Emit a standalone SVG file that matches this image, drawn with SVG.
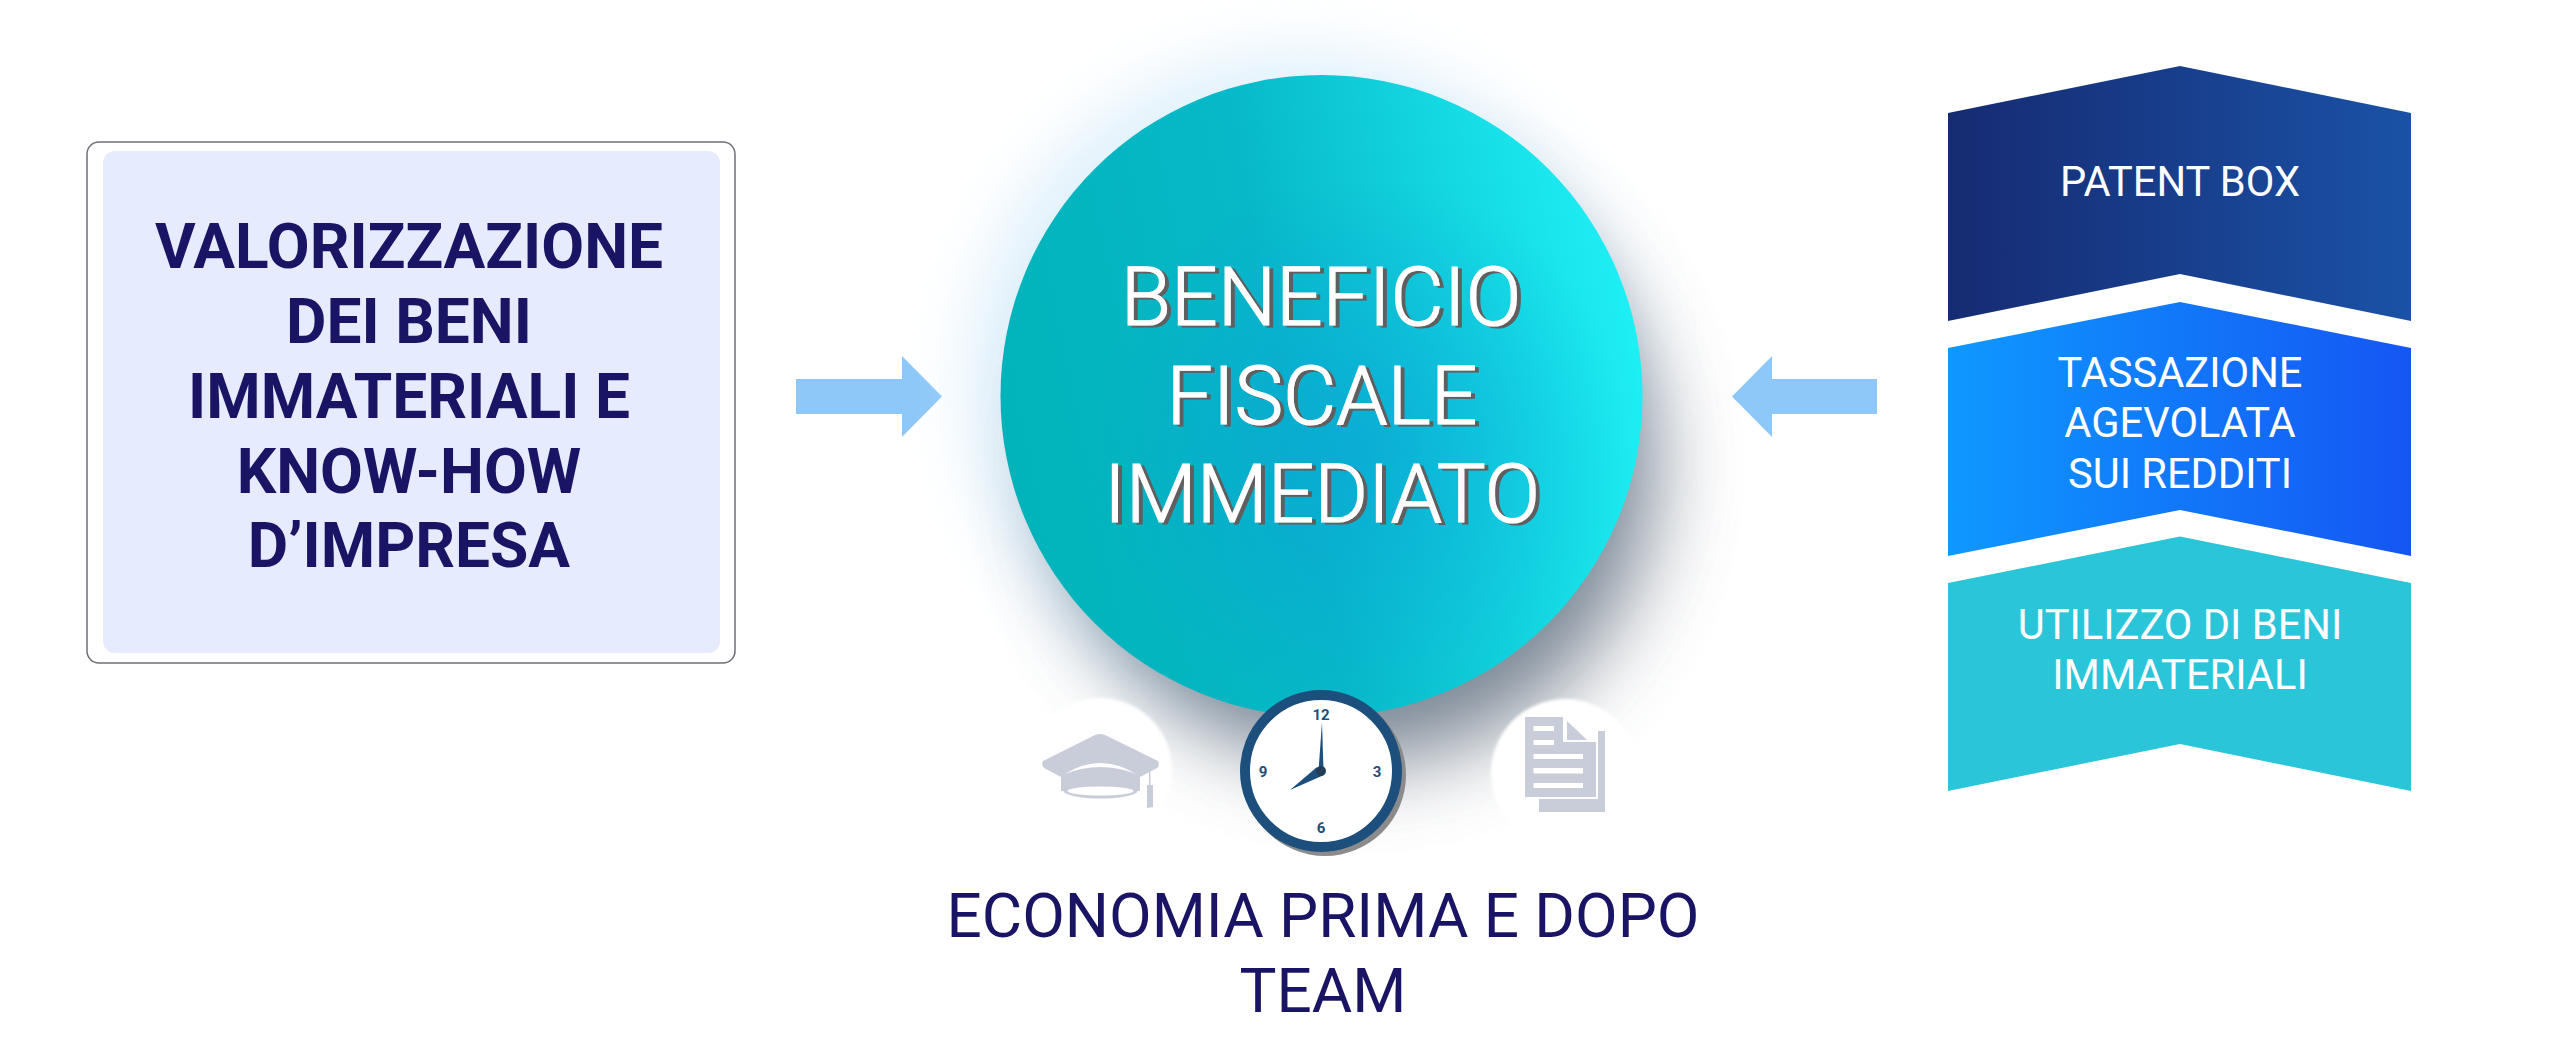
<svg xmlns="http://www.w3.org/2000/svg" width="2560" height="1056" viewBox="0 0 2560 1056">
<style>
text{font-family:Roboto,"Liberation Sans",sans-serif;text-anchor:middle}
.l{font-size:62.2px;font-weight:700;fill:#1a1464}
.c{font-size:82px;font-weight:300;fill:#fff;stroke:#fff;stroke-width:1.2px;filter:url(#ts)}
.r{font-size:41.6px;font-weight:400;fill:#fff}
.b{font-size:62px;font-weight:400;fill:#1a1464}
.n{font-size:15px;font-weight:700;fill:#1d4f7c}
.i{fill:#c9ccd9}
.w{fill:#fff}
.a{fill:#8ec8f8}
</style>
<defs>
<linearGradient id="g1" x1="0" x2="1" y1="0" y2="0"><stop offset="0" stop-color="#162b72"/><stop offset="1" stop-color="#1a52a6"/></linearGradient>
<linearGradient id="g2" x1="0" x2="1" y1="0" y2="0"><stop offset="0" stop-color="#0e99ff"/><stop offset="1" stop-color="#1556f3"/></linearGradient>
<linearGradient id="gc" x1="0" y1="0.62" x2="1" y2="0.42"><stop offset="0" stop-color="#01b3b9"/><stop offset="0.45" stop-color="#07b8c8"/><stop offset="1" stop-color="#1ef0f5"/></linearGradient>
<radialGradient id="gb" cx="0.56" cy="0.58" r="0.42"><stop offset="0" stop-color="#0a9fd8" stop-opacity="0.6"/><stop offset="1" stop-color="#0a9fd8" stop-opacity="0"/></radialGradient>
<filter id="blur" x="-40%" y="-40%" width="180%" height="180%"><feGaussianBlur stdDeviation="42"/></filter>
<filter id="glow" x="-40%" y="-40%" width="180%" height="180%"><feGaussianBlur stdDeviation="30"/></filter>
<filter id="soft" x="-30%" y="-30%" width="160%" height="160%"><feGaussianBlur stdDeviation="1.5"/></filter>
<filter id="ts" x="-5%" y="-10%" width="110%" height="120%"><feDropShadow dx="4" dy="2" stdDeviation="0.4" flood-color="#5f5f5f"/></filter>
</defs>
<rect width="2560" height="1056" fill="#fff"/>
<g id="connectors">
<polygon class="a" points="796,379 902,379 902,356 942,396.5 902,437 902,414 796,414"/>
<polygon class="a" points="1877,379 1772,379 1772,356 1732,396.5 1772,437 1772,414 1877,414"/>
</g>
<g id="node-left">
<rect x="87" y="142" width="648" height="521" rx="12" fill="#fff" stroke="#6f6f78" stroke-width="1.5"/>
<rect x="103" y="151" width="617" height="502" rx="12" fill="#e6ebfd"/>
<text class="l" x="409" y="268">VALORIZZAZIONE</text>
<text class="l" x="409" y="342.5">DEI BENI</text>
<text class="l" x="409" y="417.5">IMMATERIALI E</text>
<text class="l" x="409" y="492.5">KNOW-HOW</text>
<text class="l" x="409" y="567">D’IMPRESA</text>
</g>
<g id="node-center">
<circle cx="1300" cy="385" r="335" fill="#c4e4f8" opacity="0.5" filter="url(#glow)"/>
<circle cx="1355" cy="465" r="300" fill="#5f6c7c" opacity="0.8" filter="url(#blur)"/>
<circle cx="1321.5" cy="396" r="321" fill="url(#gc)"/>
<circle cx="1321.5" cy="396" r="321" fill="url(#gb)"/>
<text class="c" x="1321" y="325">BENEFICIO</text>
<text class="c" x="1322" y="424">FISCALE</text>
<text class="c" x="1322" y="522">IMMEDIATO</text>
</g>
<g id="node-hat">
<circle class="w" cx="1100" cy="770" r="72" filter="url(#soft)"/>
<path class="i" d="M1043,761 L1095,735 Q1100,733 1105,735 L1158,761 Q1160,766 1157,768 L1140,777 V791 H1061 V777 L1044,768 Q1041,764 1043,761Z"/>
<path class="w" d="M1065,774 Q1100,752 1136,774 Q1100,760 1065,774Z"/>
<ellipse class="i" cx="1100.5" cy="791" rx="37" ry="7.5"/>
<ellipse class="w" cx="1100.5" cy="791" rx="33" ry="4.5"/>
<rect class="i" x="1149" y="768" width="1.5" height="18"/>
<polygon class="i" points="1147,785 1153,785 1153,807 1147,808"/>
</g>
<g id="node-clock">
<circle cx="1325" cy="775" r="81" fill="#8b8b8b"/>
<circle cx="1321" cy="771" r="76" fill="#fff" stroke="#1d4f7c" stroke-width="10"/>
<text class="n" x="1321" y="720">12</text>
<text class="n" x="1263" y="776.5">9</text>
<text class="n" x="1377" y="776.5">3</text>
<text class="n" x="1321" y="833">6</text>
<polygon points="1322,722 1323.5,771 1318.5,771" fill="#1d4f7c"/>
<polygon points="1290,790 1317,767 1324,775" fill="#1d4f7c"/>
<circle cx="1321" cy="771" r="5" fill="#243d56"/>
</g>
<g id="node-doc">
<circle class="w" cx="1565" cy="773" r="74" filter="url(#soft)"/>
<polygon class="i" points="1539,731 1605,731 1605,812 1539,812"/>
<polygon class="i" points="1525,717 1563,717 1563,742 1587,742 1596,742 1596,797 1525,797"/>
<polygon class="w" points="1563,717 1570,717 1596,731 1596,742 1563,742"/>
<polygon class="i" points="1567,721 1587,740 1567,740"/>
<polygon class="w" points="1596,731 1596,800 1596,797 1539,797 1539,799 1598,799 1598,731"/>
<rect class="w" x="1533.5" y="726" width="20.5" height="5"/>
<rect class="w" x="1533.5" y="740" width="20.5" height="5"/>
<rect class="w" x="1533.5" y="754" width="49.5" height="5"/>
<rect class="w" x="1533.5" y="768" width="49.5" height="5.5"/>
<rect class="w" x="1533.5" y="783" width="49.5" height="5"/>
</g>
<g id="node-caption">
<text class="b" x="1323" y="937">ECONOMIA PRIMA E DOPO</text>
<text class="b" x="1323" y="1012">TEAM</text>
</g>
<g id="node-patent">
<polygon fill="url(#g1)" points="1948,113 2180,66 2411,113 2411,321 2180,274 1948,321"/>
<text class="r" x="2180" y="196">PATENT BOX</text>
</g>
<g id="node-tassazione">
<polygon fill="url(#g2)" points="1948,348 2180,302 2411,348 2411,556 2180,510 1948,556"/>
<text class="r" x="2180" y="387">TASSAZIONE</text>
<text class="r" x="2180" y="437">AGEVOLATA</text>
<text class="r" x="2180" y="488">SUI REDDITI</text>
</g>
<g id="node-utilizzo">
<polygon fill="#2bc5da" points="1948,583 2180,536.5 2411,583 2411,791 2180,744 1948,791"/>
<text class="r" x="2180" y="638.5">UTILIZZO DI BENI</text>
<text class="r" x="2180" y="689">IMMATERIALI</text>
</g>
</svg>
